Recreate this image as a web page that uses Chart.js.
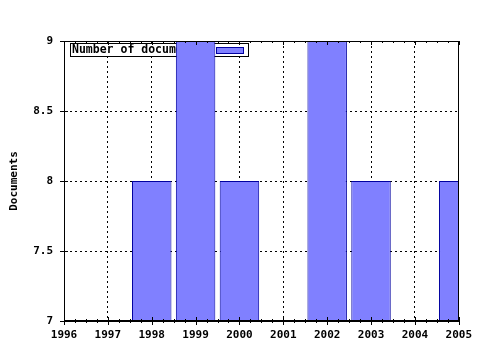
<!DOCTYPE html>
<html>
<head>
<meta charset="utf-8">
<script src="https://cdn.jsdelivr.net/npm/chart.js@4"></script>
<style>
  html, body { margin: 0; padding: 0; background: #ffffff; }
  #wrap { width: 480px; height: 350px; }
</style>
</head>
<body>
<div id="wrap"><canvas id="docChart" width="480" height="350"></canvas></div>
<script>
// データ
const years = [1998, 1999, 2000, 2002, 2003, 2005];
const docCounts = [8, 9, 8, 9, 8, 8];
const yearTicks = [1996, 1997, 1998, 1999, 2000, 2001, 2002, 2003, 2004, 2005];
const countTicks = [7, 7.5, 8, 8.5, 9];
const seriesName = 'Number of documents';
const axisTitle = 'Documents';

const FONT = '"DejaVu Sans Mono", monospace';
const FILL = '#8080ff';
const EDGE = '#0000a0';

// 凡例（棒の下に描く）
const boxedLegend = {
    id: 'boxedLegend',
    beforeDatasetsDraw(chart) {
        const { ctx, chartArea } = chart;
        const x = chartArea.left + 6, y = chartArea.top + 2;
        ctx.save();
        ctx.fillStyle = '#ffffff';
        ctx.fillRect(x, y, 179, 14);
        ctx.strokeStyle = '#000000';
        ctx.lineWidth = 1;
        ctx.strokeRect(x + 0.5, y + 0.5, 178, 13);
        ctx.font = 'bold 11.5px ' + FONT;
        ctx.fillStyle = '#000000';
        ctx.textBaseline = 'middle';
        ctx.fillText(seriesName, x + 2, y + 7.5);
        ctx.fillStyle = FILL;
        ctx.fillRect(x + 146, y + 4, 28, 7);
        ctx.strokeStyle = EDGE;
        ctx.strokeRect(x + 146.5, y + 4.5, 27, 6);
        ctx.restore();
    }
};

// 枠と目盛り線
const frameTicks = {
    id: 'frameTicks',
    afterDatasetsDraw(chart) {
        const { ctx, chartArea, scales } = chart;
        const { left, right, top, bottom } = chartArea;
        ctx.save();
        ctx.strokeStyle = '#000000';
        ctx.lineWidth = 1;
        ctx.strokeRect(Math.round(left) + 0.5, Math.round(top) + 0.5,
            Math.round(right - left) - 1, Math.round(bottom - top) - 1);
        ctx.beginPath();
        const xs = scales.x;
        for (let v = yearTicks[0]; v <= yearTicks[yearTicks.length - 1] + 0.001; v += 0.25) {
            const px = Math.round(xs.getPixelForValue(v)) + 0.5;
            const major = Math.abs(v - Math.round(v)) < 0.001;
            const len = major ? 4 : 2;
            ctx.moveTo(px, bottom - len);
            ctx.lineTo(px, bottom + len);
            ctx.moveTo(px, top);
            ctx.lineTo(px, top + len);
        }
        const ys = scales.y;
        countTicks.forEach(v => {
            const py = Math.round(ys.getPixelForValue(v)) + 0.5;
            ctx.moveTo(left - 4, py);
            ctx.lineTo(left + 4, py);
        });
        ctx.stroke();
        ctx.restore();
    }
};

new Chart(document.getElementById('docChart'), {
    type: 'bar',
    data: {
        datasets: [{
            label: seriesName,
            data: years.map((yr, i) => ({ x: yr, y: docCounts[i] })),
            backgroundColor: FILL,
            borderColor: EDGE,
            borderWidth: 1,
            barPercentage: 0.9,
            categoryPercentage: 1.0,
            clip: 0
        }]
    },
    options: {
        responsive: false,
        animation: false,
        layout: { padding: { top: 41, right: 21, left: 0, bottom: 0 } },
        plugins: {
            legend: { display: false },
            tooltip: { enabled: false }
        },
        scales: {
            x: {
                type: 'linear',
                offset: false,
                min: yearTicks[0],
                max: yearTicks[yearTicks.length - 1],
                afterBuildTicks: (s) => { s.ticks = yearTicks.map(v => ({ value: v })); },
                afterFit: (s) => { s.height = 29; },
                ticks: {
                    color: '#000000',
                    font: { family: FONT, size: 11, weight: 'bold' },
                    padding: 8,
                    maxRotation: 0,
                    autoSkip: false,
                    callback: (v) => String(v)
                },
                grid: {
                    offset: false,
                    color: '#000000',
                    lineWidth: 1,
                    drawTicks: false
                },
                border: { display: true, color: '#000000', dash: [2, 3] }
            },
            y: {
                min: countTicks[0],
                max: countTicks[countTicks.length - 1],
                afterBuildTicks: (s) => { s.ticks = countTicks.map(v => ({ value: v })); },
                afterFit: (s) => { s.width = 64; },
                title: {
                    display: true,
                    text: axisTitle,
                    color: '#000000',
                    font: { family: FONT, size: 11, weight: 'bold' },
                    padding: { top: 8, bottom: 0 }
                },
                ticks: {
                    color: '#000000',
                    font: { family: FONT, size: 11, weight: 'bold' },
                    padding: 11,
                    callback: (v) => String(v)
                },
                grid: {
                    color: '#000000',
                    lineWidth: 1,
                    drawTicks: false
                },
                border: { display: true, color: '#000000', dash: [2, 3] }
            }
        }
    },
    plugins: [boxedLegend, frameTicks]
});
</script>
</body>
</html>
